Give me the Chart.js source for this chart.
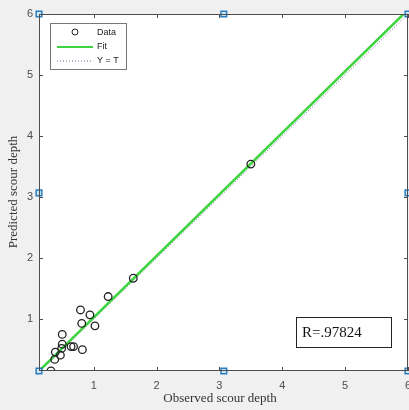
<!DOCTYPE html>
<html>
<head>
<meta charset="utf-8">
<script src="https://cdn.jsdelivr.net/npm/chart.js@4.4.1/dist/chart.umd.min.js"></script>
<style>
  html, body { margin: 0; padding: 0; background: #f0f0f0; }
  #wrap { width: 409px; height: 410px; position: relative; }
</style>
</head>
<body>
<div id="wrap"><canvas id="c" width="409" height="410"></canvas></div>
<script>
/* observed vs predicted scour depth */
var observed  = [0.79, 0.94, 0.81, 1.02, 0.50, 0.50, 0.64, 0.68, 0.82, 0.49, 0.39, 0.47, 0.38, 0.32, 1.23, 1.63, 3.50];
var predicted = [1.15, 1.07, 0.93, 0.89, 0.75, 0.59, 0.55, 0.55, 0.50, 0.52, 0.46, 0.41, 0.34, 0.15, 1.37, 1.67, 3.54];

/* fit line and Y = T line endpoints */
var fitX = [0.13, 5.93];
var fitY = [0.15, 6.0];
var idX  = [0.13, 6.0];
var idY  = [0.13, 6.0];

/* edit-mode handles on the axes box */
var handleX = [0.13, 0.13, 0.13, 3.07, 3.07, 6.0, 6.0, 6.0];
var handleY = [0.15, 3.07, 6.0, 6.0, 0.15, 6.0, 3.07, 0.15];

var xTicks = [1, 2, 3, 4, 5, 6];
var yTicks = [1, 2, 3, 4, 5, 6];
var rText = 'R=.97824';

function pts(xs, ys) {
  return xs.map(function(x, i) { return { x: x, y: ys[i] }; });
}

/* white plot area, box frame, inside ticks, legend, R box, axis titles */
var matlabAxes = {
  id: 'matlabAxes',
  beforeDraw: function(chart) {
    var ctx = chart.ctx, a = chart.chartArea;
    ctx.save();
    ctx.fillStyle = '#f0f0f0';
    ctx.fillRect(0, 0, chart.width, chart.height);
    ctx.fillStyle = '#ffffff';
    ctx.fillRect(a.left, a.top, a.right - a.left, a.bottom - a.top);
    ctx.restore();
  },
  afterDatasetsDraw: function(chart) {
    var ctx = chart.ctx, a = chart.chartArea;
    var xs = chart.scales.x, ys = chart.scales.y;
    ctx.save();
    ctx.strokeStyle = '#4d4d4d';
    ctx.lineWidth = 1;
    ctx.strokeRect(a.left + 0.5, a.top + 0.5, a.right - a.left - 1, a.bottom - a.top - 1);

    ctx.beginPath();
    xTicks.forEach(function(v) {
      var px = Math.round(xs.getPixelForValue(v)) + 0.5;
      ctx.moveTo(px, a.bottom); ctx.lineTo(px, a.bottom - 4);
      ctx.moveTo(px, a.top);    ctx.lineTo(px, a.top + 4);
    });
    yTicks.forEach(function(v) {
      var py = Math.round(ys.getPixelForValue(v)) + 0.5;
      ctx.moveTo(a.left, py);  ctx.lineTo(a.left + 4, py);
      ctx.moveTo(a.right, py); ctx.lineTo(a.right - 4, py);
    });
    ctx.stroke();

    /* legend */
    ctx.fillStyle = '#ffffff';
    ctx.fillRect(50, 23, 77, 47);
    ctx.strokeStyle = '#777777';
    ctx.strokeRect(50.5, 23.5, 76, 46);
    ctx.font = '9px "Liberation Sans", Arial, sans-serif';
    ctx.fillStyle = '#222222';
    ctx.textBaseline = 'middle';
    ctx.textAlign = 'left';
    ctx.fillText('Data', 97, 33);
    ctx.fillText('Fit', 97, 47);
    ctx.fillText('Y = T', 97, 61);
    ctx.strokeStyle = '#222222';
    ctx.beginPath(); ctx.arc(75, 32, 3, 0, Math.PI * 2); ctx.stroke();
    ctx.strokeStyle = '#3fd43f'; ctx.lineWidth = 2;
    ctx.beginPath(); ctx.moveTo(57, 47); ctx.lineTo(93, 47); ctx.stroke();
    ctx.strokeStyle = '#6a6a9a'; ctx.lineWidth = 1; ctx.setLineDash([1, 2]);
    ctx.beginPath(); ctx.moveTo(57, 61); ctx.lineTo(93, 61); ctx.stroke();
    ctx.setLineDash([]);

    /* R box */
    ctx.fillStyle = '#ffffff';
    ctx.fillRect(296, 317, 96, 31);
    ctx.strokeStyle = '#222222';
    ctx.strokeRect(296.5, 317.5, 95, 30);
    ctx.fillStyle = '#111111';
    ctx.font = '15px "Liberation Serif", "Times New Roman", serif';
    ctx.textAlign = 'left';
    ctx.fillText(rText, 302, 333);

    /* axis titles */
    ctx.font = '13px "Liberation Serif", "Times New Roman", serif';
    ctx.fillStyle = '#333333';
    ctx.textAlign = 'center';
    ctx.fillText('Observed scour depth', 220, 399);
    ctx.translate(14, 192);
    ctx.rotate(-Math.PI / 2);
    ctx.fillText('Predicted scour depth', 0, 0);
    ctx.restore();
  }
};

new Chart(document.getElementById('c'), {
  type: 'scatter',
  data: {
    datasets: [
      {
        label: 'Y = T', type: 'line', data: pts(idX, idY),
        borderColor: '#6a6a9a', borderWidth: 1, borderDash: [1, 2],
        pointRadius: 0, fill: false, order: 3
      },
      {
        label: 'Fit', type: 'line', data: pts(fitX, fitY),
        borderColor: '#3fd43f', borderWidth: 2.5,
        pointRadius: 0, fill: false, order: 2
      },
      {
        label: 'Data', data: pts(observed, predicted),
        pointStyle: 'circle', pointRadius: 3.8, pointBorderWidth: 1.3,
        borderColor: '#222222', backgroundColor: 'rgba(0,0,0,0)', order: 1
      },
      {
        label: 'handles', data: pts(handleX, handleY),
        pointStyle: 'rect', pointRadius: 4, pointBorderWidth: 1.5,
        borderColor: '#2a7ec0', backgroundColor: '#cfe6f7', clip: false, order: 0
      }
    ]
  },
  options: {
    responsive: false,
    animation: false,
    devicePixelRatio: 1,
    layout: { autoPadding: false, padding: { top: 14, right: 1, left: 0, bottom: 0 } },
    plugins: { legend: { display: false }, tooltip: { enabled: false } },
    scales: {
      x: {
        type: 'linear', min: 0.13, max: 6,
        afterFit: function(s) { s.height = 39; s.paddingLeft = 0; s.paddingRight = 0; },
        afterBuildTicks: function(s) { s.ticks = xTicks.map(function(v) { return { value: v }; }); },
        grid: { display: false, drawTicks: false },
        border: { display: false },
        ticks: { padding: 8, color: '#4d4d4d', font: { size: 11, family: '"Liberation Sans", Arial, sans-serif' }, maxRotation: 0 }
      },
      y: {
        type: 'linear', min: 0.15, max: 6,
        afterFit: function(s) { s.width = 39; s.paddingTop = 0; s.paddingBottom = 0; },
        afterBuildTicks: function(s) { s.ticks = yTicks.map(function(v) { return { value: v }; }); },
        grid: { display: false, drawTicks: false },
        border: { display: false },
        ticks: { padding: 6, color: '#4d4d4d', font: { size: 11, family: '"Liberation Sans", Arial, sans-serif' } }
      }
    }
  },
  plugins: [matlabAxes]
});
</script>
</body>
</html>
